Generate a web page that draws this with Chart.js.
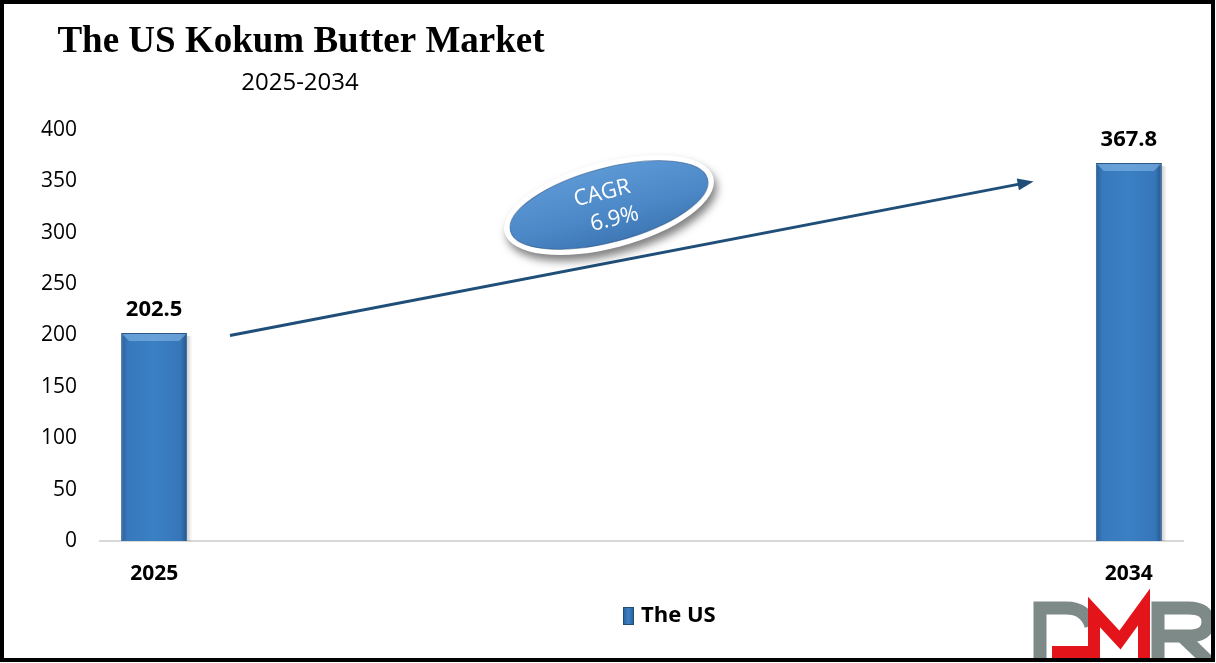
<!DOCTYPE html>
<html>
<head>
<meta charset="utf-8">
<script src="https://cdn.jsdelivr.net/npm/chart.js@4/dist/chart.umd.min.js"></script>
<style>
html,body{margin:0;padding:0;background:#fff;}
#wrap{width:1216px;height:663px;}
</style>
</head>
<body>
<div id="wrap"><canvas id="c" width="1216" height="663"></canvas></div>
<script>
// ---- data ----
const categories = ['2025','2026','2027','2028','2029','2030','2031','2032','2033','2034'];
const usValues = [202.5, null, null, null, null, null, null, null, null, 367.8];
const shownTickLabels = ['2025','','','','','','','','','2034'];
const yTicks = [0,50,100,150,200,250,300,350,400];
const seriesName = 'The US';
const titleText = 'The US Kokum Butter Market';
const subtitleText = '2025-2034';
const cagrLines = ['CAGR','6.9%'];

const SANS = '"Open Sans", "Noto Sans", sans-serif';
const BAR_PCT = 0.61;

function barGradient(ctx, x0, x1){
  const g = ctx.createLinearGradient(x0, 0, x1, 0);
  g.addColorStop(0, '#2a5f98');
  g.addColorStop(0.1, '#3779bd');
  g.addColorStop(0.5, '#3b80c4');
  g.addColorStop(0.9, '#3676b8');
  g.addColorStop(1, '#24568b');
  return g;
}

const decor = {
  id: 'decor',
  afterDatasetsDraw(chart){
    const ctx = chart.ctx;
    const meta = chart.getDatasetMeta(0);
    ctx.save();
    meta.data.forEach((el, i) => {
      const v = usValues[i];
      if (v === null || v === undefined) return;
      const w = el.width, x0 = el.x - w/2, x1 = el.x + w/2, t = el.y;
      ctx.beginPath();
      ctx.moveTo(x0 + 1, t + 1);
      ctx.lineTo(x1 - 1, t + 1);
      ctx.lineTo(x1 - 8, t + 8);
      ctx.lineTo(x0 + 8, t + 8);
      ctx.closePath();
      ctx.fillStyle = 'rgba(140,190,235,0.55)';
      ctx.fill();
      // soft shadow on right side
      const sg = ctx.createLinearGradient(x1, 0, x1 + 5, 0);
      sg.addColorStop(0, 'rgba(0,0,0,0.18)');
      sg.addColorStop(1, 'rgba(0,0,0,0)');
      ctx.fillStyle = sg;
      ctx.fillRect(x1, t + 3, 5, el.base - t - 3);
    });
    ctx.restore();
  },
  afterDraw(chart){
    const ctx = chart.ctx;
    const xs = chart.scales.x, ys = chart.scales.y;
    ctx.save();
    // title
    ctx.fillStyle = '#000';
    ctx.textAlign = 'center';
    ctx.textBaseline = 'alphabetic';
    ctx.font = 'bold 37px "Liberation Serif", "Times New Roman", serif';
    ctx.fillText(titleText, 301, 52);
    ctx.font = '24px ' + SANS;
    ctx.fillText(subtitleText, 300, 90);

    // data labels
    const meta = chart.getDatasetMeta(0);
    ctx.font = 'bold 22px ' + SANS;
    ctx.textBaseline = 'middle';
    meta.data.forEach((el, i) => {
      const v = usValues[i];
      if (v === null || v === undefined) return;
      ctx.fillText(v.toFixed(1), el.x, el.y - 23);
    });

    // arrow (anchored to scales)
    const step = xs.getPixelForValue(1) - xs.getPixelForValue(0);
    const ax0 = xs.getPixelForValue(0) + step * 0.7, ay0 = ys.getPixelForValue(200);
    const ax1 = xs.getPixelForValue(8) + step * 0.12, ay1 = ys.getPixelForValue(350);
    ctx.strokeStyle = '#1f4e79';
    ctx.fillStyle = '#1f4e79';
    ctx.lineWidth = 3;
    const ang = Math.atan2(ay1 - ay0, ax1 - ax0);
    ctx.beginPath();
    ctx.moveTo(ax0, ay0);
    ctx.lineTo(ax1 - 12*Math.cos(ang), ay1 - 12*Math.sin(ang));
    ctx.stroke();
    ctx.beginPath();
    ctx.moveTo(ax1, ay1);
    ctx.lineTo(ax1 - 16*Math.cos(ang) + 6*Math.sin(ang), ay1 - 16*Math.sin(ang) - 6*Math.cos(ang));
    ctx.lineTo(ax1 - 16*Math.cos(ang) - 6*Math.sin(ang), ay1 - 16*Math.sin(ang) + 6*Math.cos(ang));
    ctx.closePath();
    ctx.fill();

    // CAGR ellipse
    const cx = xs.getPixelForValue(4) + step * 0.2, cy = ys.getPixelForValue(327);
    ctx.save();
    ctx.translate(cx, cy);
    ctx.rotate(-0.26);
    ctx.shadowColor = 'rgba(0,0,0,0.5)';
    ctx.shadowBlur = 9;
    ctx.shadowOffsetX = 3;
    ctx.shadowOffsetY = 6;
    ctx.beginPath();
    ctx.ellipse(0, 0, 108, 43, 0, 0, Math.PI*2);
    ctx.fillStyle = '#ffffff';
    ctx.fill();
    ctx.shadowColor = 'transparent';
    const eg = ctx.createLinearGradient(0, -38, 0, 38);
    eg.addColorStop(0, '#5c98d4');
    eg.addColorStop(0.6, '#4c88c7');
    eg.addColorStop(1, '#3e77b4');
    ctx.beginPath();
    ctx.ellipse(0, 0, 102, 37, 0, 0, Math.PI*2);
    ctx.fillStyle = eg;
    ctx.fill();
    ctx.strokeStyle = 'rgba(30,70,120,0.5)';
    ctx.lineWidth = 1;
    ctx.stroke();
    ctx.rotate(0.02);
    ctx.fillStyle = '#ffffff';
    ctx.font = '22px ' + SANS;
    ctx.textAlign = 'center';
    ctx.textBaseline = 'middle';
    ctx.fillText(cagrLines[0], -4, -13);
    ctx.fillText(cagrLines[1], 2, 15);
    ctx.restore();

    // legend
    const lg = ctx.createLinearGradient(623, 0, 634, 0);
    lg.addColorStop(0, '#2a619c'); lg.addColorStop(0.5, '#3b80c4'); lg.addColorStop(1, '#265a91');
    ctx.fillStyle = lg;
    ctx.fillRect(623, 607, 11, 18);
    ctx.strokeStyle = '#1f4e79';
    ctx.lineWidth = 1;
    ctx.strokeRect(623.5, 607.5, 10, 17);
    ctx.fillStyle = '#000';
    ctx.font = 'bold 22px ' + SANS;
    ctx.textAlign = 'left';
    ctx.textBaseline = 'middle';
    ctx.fillText(seriesName, 641, 616);

    // DMR logo
    ctx.save();
    ctx.beginPath();
    ctx.rect(0, 0, 1216, 659);
    ctx.clip();
    ctx.lineJoin = 'miter';
    ctx.lineCap = 'butt';
    ctx.strokeStyle = '#7d8a88';
    ctx.lineWidth = 13;
    // D (grey)
    ctx.beginPath();
    ctx.moveTo(1040, 665);
    ctx.lineTo(1040, 608);
    ctx.lineTo(1066, 608);
    ctx.quadraticCurveTo(1086, 608, 1091, 626);
    ctx.stroke();
    // R (grey)
    ctx.beginPath();
    ctx.moveTo(1158, 665);
    ctx.lineTo(1158, 608);
    ctx.lineTo(1188, 608);
    ctx.quadraticCurveTo(1208, 608, 1208, 622);
    ctx.quadraticCurveTo(1208, 636, 1188, 636);
    ctx.lineTo(1164, 636);
    ctx.stroke();
    ctx.beginPath();
    ctx.moveTo(1182, 636);
    ctx.lineTo(1212, 665);
    ctx.stroke();
    // M (red)
    ctx.strokeStyle = '#e3151a';
    ctx.lineWidth = 12;
    ctx.beginPath();
    ctx.moveTo(1052, 652);
    ctx.lineTo(1094, 652);
    ctx.lineTo(1094, 612);
    ctx.lineTo(1120, 640);
    ctx.lineTo(1144, 607);
    ctx.lineTo(1144, 665);
    ctx.stroke();
    ctx.restore();

    // frame
    ctx.strokeStyle = '#000';
    ctx.lineWidth = 4;
    ctx.strokeRect(2, 2, 1211, 658);
    ctx.restore();
  }
};

const white = {
  id: 'white',
  beforeDraw(chart){
    const c = chart.ctx;
    c.save(); c.fillStyle = '#fff'; c.fillRect(0,0,chart.width,chart.height); c.restore();
  }
};

new Chart(document.getElementById('c'), {
  type: 'bar',
  data: {
    labels: categories,
    datasets: [{
      label: seriesName,
      data: usValues,
      backgroundColor: (c) => {
        const xs = c.chart.scales && c.chart.scales.x;
        if (!xs || !c.chart.chartArea || c.dataIndex === undefined) return '#3b80c4';
        const cx = xs.getPixelForValue(c.dataIndex);
        const w = (xs.width / categories.length) * BAR_PCT;
        if (!isFinite(cx) || !isFinite(w)) return '#3b80c4';
        return barGradient(c.chart.ctx, cx - w/2, cx + w/2);
      },
      borderColor: '#2a5a8c',
      borderWidth: 1,
      barPercentage: BAR_PCT,
      categoryPercentage: 1.0
    }]
  },
  options: {
    responsive: false,
    animation: false,
    devicePixelRatio: 1,
    layout: { padding: { left: 0, top: 130, right: 33, bottom: 0 } },
    plugins: {
      legend: { display: false },
      title: { display: false },
      tooltip: { enabled: false }
    },
    scales: {
      x: {
        grid: { display: false, drawTicks: false },
        border: { display: true, color: '#d9d9d9', width: 2 },
        ticks: {
          color: '#000',
          font: { family: SANS, size: 21, weight: 'bold' },
          padding: 20,
          autoSkip: false,
          maxRotation: 0,
          callback: (v, i) => shownTickLabels[i]
        },
        afterFit: (s) => { s.height = 122; }
      },
      y: {
        min: 0,
        max: 400,
        afterBuildTicks: (s) => { s.ticks = yTicks.map(v => ({ value: v })); },
        grid: { display: false, drawTicks: false },
        border: { display: false },
        ticks: {
          color: '#000',
          font: { family: SANS, size: 21 },
          padding: 23
        },
        afterFit: (s) => { s.width = 100; }
      }
    }
  },
  plugins: [white, decor]
});
</script>
</body>
</html>
